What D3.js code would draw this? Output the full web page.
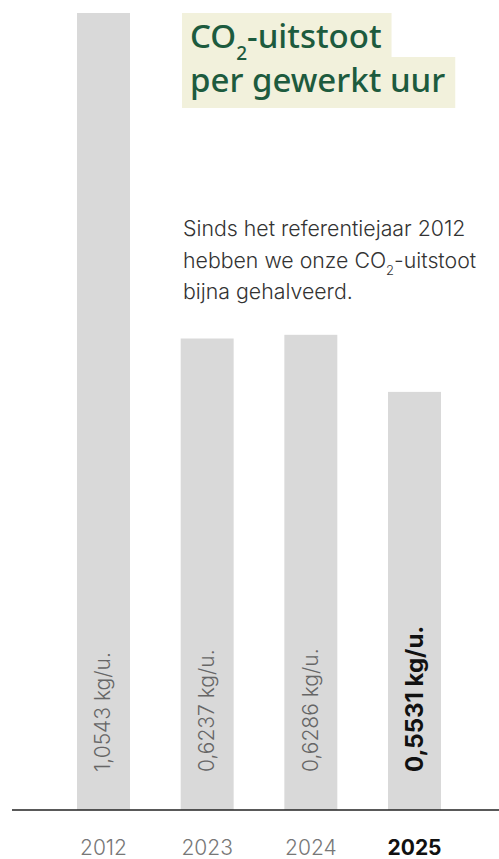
<!DOCTYPE html>
<html><head><meta charset="utf-8">
<script src="https://cdn.jsdelivr.net/npm/d3@7"></script>
<style>
html,body{margin:0;padding:0;background:#fff;}
svg{display:block;}
</style></head>
<body>
<svg id="chart" width="499" height="859"></svg>
<script>
const years = ["2012", "2023", "2024", "2025"];
const values = [1.0543, 0.6237, 0.6286, 0.5531];
const valueLabels = ["1,0543 kg/u.", "0,6237 kg/u.", "0,6286 kg/u.", "0,5531 kg/u."];
const highlightYear = "2025";
const titleLines = [["CO", "2", "-uitstoot"], ["per gewerkt uur"]];
const descLines = [["Sinds het referentiejaar 2012"], ["hebben we onze CO", "2", "-uitstoot"], ["bijna gehalveerd."]];

const svg = d3.select("#chart");
const baseY = 810;
const y = d3.scaleLinear().domain([0, 1.0543]).range([baseY, 13]);
const x = d3.scaleBand().domain(years).range([77, 441]).paddingInner(0.489).paddingOuter(0);

// bars
svg.append("g").selectAll("rect").data(years).join("rect")
  .attr("x", d => x(d))
  .attr("width", x.bandwidth())
  .attr("y", (d, i) => y(values[i]))
  .attr("height", (d, i) => baseY - y(values[i]))
  .attr("fill", "#d9d9d9");

// baseline
svg.append("line").attr("x1", 12).attr("x2", 499).attr("y1", baseY).attr("y2", baseY)
  .attr("stroke", "#222").attr("stroke-width", 1.5);

// value labels rotated
svg.append("g").selectAll("text").data(years).join("text")
  .attr("transform", d => `translate(${x(d) + x.bandwidth() / 2 + (d === highlightYear ? 8.5 : 7)},772) rotate(-90)`)
  .attr("font-family", "Inter, Roboto, sans-serif")
  .attr("font-size", d => d === highlightYear ? 24 : 21)
  .attr("font-weight", d => d === highlightYear ? 700 : 300)
  .attr("fill", d => d === highlightYear ? "#111" : "#666")
  .text((d, i) => valueLabels[i]);

// x axis labels
const xAxis = d3.axisBottom(x).tickSize(0).tickPadding(0);
const ax = svg.append("g").attr("transform", `translate(0,${baseY})`).call(xAxis);
ax.select(".domain").remove();
ax.selectAll("text")
  .attr("y", 45).attr("dy", 0)
  .attr("font-family", "Inter, Roboto, sans-serif")
  .attr("font-size", 21)
  .attr("font-weight", d => d === highlightYear ? 700 : 300)
  .attr("fill", d => d === highlightYear ? "#111" : "#777");

// title with highlight boxes
const titleG = svg.append("g");
const titleBase = [48, 92];
const titleBoxes = [[13, 57], [57, 108]];
titleLines.forEach((parts, li) => {
  const t = titleG.append("text")
    .attr("x", 190).attr("y", titleBase[li])
    .attr("font-family", "'Noto Sans', 'Open Sans', sans-serif")
    .attr("font-size", 33)
    .attr("font-weight", 500)
    .attr("fill", "#1d5b3e");
  parts.forEach((p, pi) => {
    if (parts.length === 3 && pi === 1) {
      t.append("tspan").attr("font-size", 19).attr("dy", 12).text(p);
    } else if (parts.length === 3 && pi === 2) {
      t.append("tspan").attr("dy", -12).text(p);
    } else {
      t.append("tspan").text(p);
    }
  });
  const bb = t.node().getBBox();
  titleG.insert("rect", "text")
    .attr("x", 182).attr("y", titleBoxes[li][0])
    .attr("width", bb.x + bb.width + 10 - 182)
    .attr("height", titleBoxes[li][1] - titleBoxes[li][0])
    .attr("fill", "#f2f1dc");
});

// description
const descBase = [236, 268, 299];
descLines.forEach((parts, li) => {
  const t = svg.append("text")
    .attr("x", 183).attr("y", descBase[li])
    .attr("font-family", "Inter, Roboto, sans-serif")
    .attr("font-size", 21.3)
    .attr("font-weight", 300)
    .attr("fill", "#333");
  parts.forEach((p, pi) => {
    if (parts.length === 3 && pi === 1) {
      t.append("tspan").attr("font-size", 13).attr("dy", 7).text(p);
    } else if (parts.length === 3 && pi === 2) {
      t.append("tspan").attr("dy", -7).text(p);
    } else {
      t.append("tspan").text(p);
    }
  });
});
</script>
</body></html>
